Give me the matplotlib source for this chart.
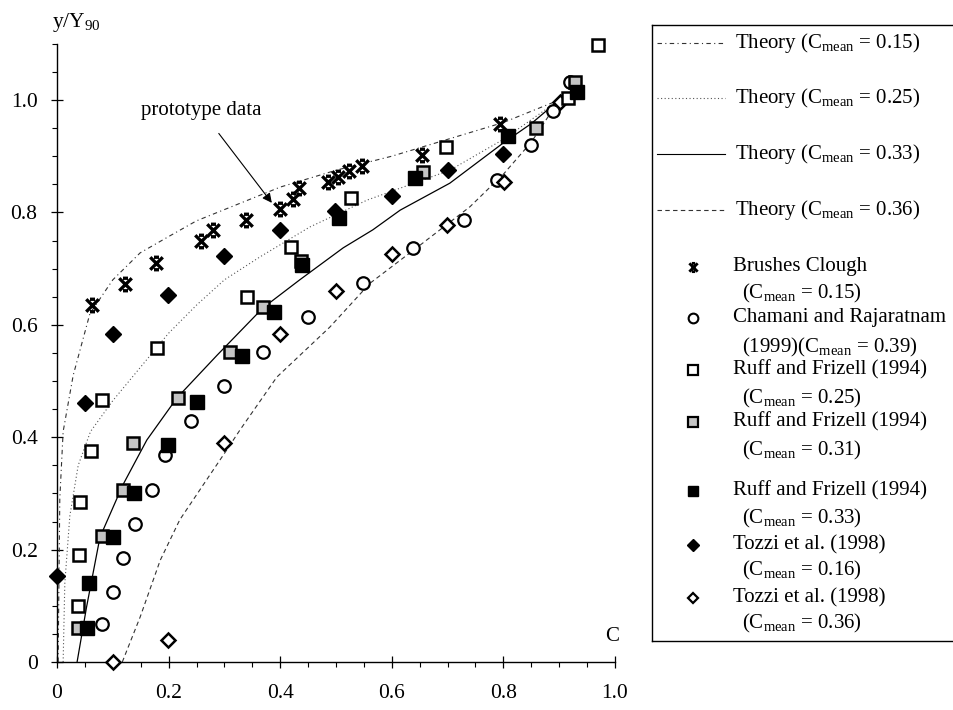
import matplotlib
matplotlib.use("Agg")
import matplotlib.pyplot as plt
from matplotlib.path import Path
from matplotlib.ticker import MultipleLocator

plt.rcParams['font.family'] = ['Liberation Serif', 'DejaVu Serif']
plt.rcParams['mathtext.fontset'] = 'custom'
plt.rcParams['mathtext.rm'] = 'Liberation Serif'
plt.rcParams['mathtext.it'] = 'Liberation Serif:italic'

# ---------------- data (C, y/Y90) ----------------
th015_c = [0.002, 0.005, 0.011, 0.029, 0.059, 0.100, 0.149, 0.200, 0.250, 0.300, 0.350, 0.400, 0.450, 0.500, 0.600, 0.700, 0.800, 0.900]
th015_y = [0.000, 0.290, 0.410, 0.510, 0.620, 0.680, 0.728, 0.757, 0.785, 0.805, 0.825, 0.845, 0.860, 0.875, 0.900, 0.930, 0.960, 1.000]

th025_c = [0.011, 0.014, 0.023, 0.038, 0.060, 0.100, 0.150, 0.200, 0.250, 0.300, 0.364, 0.453, 0.556, 0.704, 0.800, 0.900]
th025_y = [0.000, 0.140, 0.260, 0.350, 0.410, 0.465, 0.525, 0.585, 0.635, 0.680, 0.721, 0.774, 0.822, 0.875, 0.930, 1.000]

th033_c = [0.036, 0.053, 0.077, 0.118, 0.161, 0.215, 0.287, 0.369, 0.435, 0.513, 0.566, 0.615, 0.704, 0.799, 0.850, 0.900]
th033_y = [0.000, 0.098, 0.222, 0.315, 0.395, 0.470, 0.546, 0.630, 0.680, 0.737, 0.769, 0.804, 0.852, 0.923, 0.958, 1.000]

th036_c = [0.117, 0.149, 0.185, 0.220, 0.268, 0.304, 0.328, 0.394, 0.489, 0.561, 0.651, 0.740, 0.800, 0.850, 0.900]
th036_y = [0.000, 0.080, 0.181, 0.253, 0.324, 0.377, 0.413, 0.507, 0.596, 0.674, 0.742, 0.810, 0.868, 0.925, 1.000]

brushes_c = [0.063, 0.122, 0.177, 0.258, 0.280, 0.339, 0.400, 0.423, 0.434, 0.486, 0.504, 0.523, 0.547, 0.654, 0.794]
brushes_y = [0.635, 0.673, 0.710, 0.749, 0.769, 0.786, 0.806, 0.824, 0.843, 0.854, 0.863, 0.874, 0.883, 0.902, 0.957]

chamani_c = [0.081, 0.100, 0.118, 0.140, 0.170, 0.194, 0.240, 0.299, 0.369, 0.450, 0.548, 0.638, 0.729, 0.789, 0.849, 0.889, 0.919]
chamani_y = [0.068, 0.125, 0.185, 0.246, 0.306, 0.368, 0.429, 0.491, 0.552, 0.614, 0.674, 0.736, 0.786, 0.858, 0.920, 0.980, 1.032]

ruff025_c = [0.038, 0.040, 0.041, 0.061, 0.081, 0.179, 0.341, 0.419, 0.527, 0.697, 0.916, 0.970]
ruff025_y = [0.100, 0.190, 0.285, 0.376, 0.466, 0.559, 0.650, 0.739, 0.826, 0.917, 1.003, 1.098]

ruff031_c = [0.038, 0.081, 0.118, 0.136, 0.217, 0.310, 0.369, 0.437, 0.656, 0.858, 0.928]
ruff031_y = [0.060, 0.224, 0.306, 0.390, 0.470, 0.552, 0.632, 0.714, 0.872, 0.950, 1.032]

ruff033_c = [0.053, 0.057, 0.101, 0.138, 0.199, 0.251, 0.331, 0.389, 0.439, 0.505, 0.642, 0.808, 0.932]
ruff033_y = [0.060, 0.141, 0.222, 0.301, 0.386, 0.463, 0.545, 0.623, 0.706, 0.790, 0.861, 0.936, 1.014]

tozzi016_c = [0.000, 0.050, 0.100, 0.199, 0.299, 0.400, 0.498, 0.600, 0.701, 0.799]
tozzi016_y = [0.153, 0.461, 0.584, 0.653, 0.722, 0.769, 0.802, 0.829, 0.875, 0.904]

tozzi036_c = [0.100, 0.199, 0.299, 0.400, 0.500, 0.600, 0.699, 0.801, 0.901]
tozzi036_y = [0.000, 0.039, 0.390, 0.584, 0.660, 0.726, 0.778, 0.854, 0.996]

x_ticks = [0, 0.2, 0.4, 0.6, 0.8, 1.0]
x_ticklabels = ['0', '0.2', '0.4', '0.6', '0.8', '1.0']
y_ticks = [0, 0.2, 0.4, 0.6, 0.8, 1.0]
y_ticklabels = ['0', '0.2', '0.4', '0.6', '0.8', '1.0']

theory_labels = ['0.15', '0.25', '0.33', '0.36']

# ---------------- styles ----------------
ls015 = (0, (4, 3, 1, 3))
ls025 = (0, (1, 2.2))
ls033 = '-'
ls036 = (0, (4, 3))
GRAY = '#c4c4c4'

xbar = Path([(-1, -1), (1, 1), (-1, 1), (1, -1),
             (-0.4, 1), (0.4, 1), (-0.4, -1), (0.4, -1)],
            [Path.MOVETO, Path.LINETO] * 4)

FS = 15

fig = plt.figure(figsize=(9.54, 7.10), dpi=100)
ax = fig.add_axes([57 / 954, 48 / 710, 558 / 954, (662 - 43.8) / 710])
ax.set_xlim(0, 1.0)
ax.set_ylim(0, 1.1)

# theory curves
ax.plot(th015_c, th015_y, ls=ls015, color='#333333', lw=0.8)
ax.plot(th025_c, th025_y, ls=ls025, color='#555555', lw=0.8)
ax.plot(th033_c, th033_y, ls=ls033, color='black', lw=0.9)
ax.plot(th036_c, th036_y, ls=ls036, color='#333333', lw=0.8)

# data
kw = dict(ls='none', clip_on=False, zorder=3)
ax.plot(chamani_c, chamani_y, marker='o', ms=9, mfc='white', mec='black', mew=1.6, **kw)
ax.plot(tozzi036_c, tozzi036_y, marker='D', ms=7, mfc='white', mec='black', mew=1.8, **kw)
ax.plot(ruff025_c, ruff025_y, marker='s', ms=9, mfc='white', mec='black', mew=1.8, **kw)
ax.plot(ruff031_c, ruff031_y, marker='s', ms=9, mfc=GRAY, mec='black', mew=1.8, **kw)
ax.plot(ruff033_c, ruff033_y, marker='s', ms=10, mfc='black', mec='black', mew=1.0, **kw)
ax.plot(tozzi016_c, tozzi016_y, marker='D', ms=8, mfc='black', mec='black', mew=1.0, **kw)
ax.plot(brushes_c, brushes_y, marker=xbar, ms=9, mfc='none', mec='black', mew=2.4, **kw)

# axes styling
for s in ['top', 'right']:
    ax.spines[s].set_visible(False)
for s in ['left', 'bottom']:
    ax.spines[s].set_linewidth(1.0)
ax.set_xticks(x_ticks)
ax.set_xticklabels(x_ticklabels)
ax.set_yticks(y_ticks)
ax.set_yticklabels(y_ticklabels)
ax.xaxis.set_minor_locator(MultipleLocator(0.05))
ax.yaxis.set_minor_locator(MultipleLocator(0.05))
ax.tick_params(which='major', direction='inout', length=8, width=0.9, labelsize=FS + 0.5)
ax.tick_params(which='minor', direction='out', length=3.5, width=0.8)
ax.tick_params(axis='x', which='major', pad=12)
ax.tick_params(axis='y', which='major', pad=10)

ax.text(0.995, 0.046, 'C', fontsize=FS, ha='center', va='center')
fig.text(52 / 954, 1 - 27 / 710, r'y/Y$_{90}$', fontsize=FS + 0.5, ha='left', va='baseline')

ax.annotate('prototype data', xy=(0.385, 0.817), xytext=(0.258, 0.982),
            fontsize=FS, ha='center', va='center',
            arrowprops=dict(arrowstyle='-|>', color='black', lw=0.8,
                            mutation_scale=14, shrinkA=10, shrinkB=0))

# ---------------- legend panel (pixel coordinates) ----------------
lax = fig.add_axes([652 / 954, (710 - 641) / 710, (962 - 652) / 954, (641 - 25) / 710])
lax.set_xlim(652, 962)
lax.set_ylim(641, 25)
lax.set_xticks([])
lax.set_yticks([])
for s in lax.spines.values():
    s.set_linewidth(1.0)

theory_styles = [(ls015, '#333333'), (ls025, '#555555'), (ls033, 'black'), (ls036, '#333333')]
theory_ypos = [43, 98, 154, 210]
for (ls, col), yy, lab in zip(theory_styles, theory_ypos, theory_labels):
    lax.plot([657, 725], [yy, yy], ls=ls, color=col, lw=0.8)
    lax.text(735, yy, r'Theory (C$_{\mathrm{mean}}$ = %s)' % lab, fontsize=FS, va='center', ha='left')

entries = [
    (dict(marker=xbar, ms=6, mfc='none', mec='black', mew=2.0), 'Brushes Clough', r'(C$_{\mathrm{mean}}$ = 0.15)', 267, 293),
    (dict(marker='o', ms=7, mfc='white', mec='black', mew=1.5), 'Chamani and Rajaratnam', r'(1999)(C$_{\mathrm{mean}}$ = 0.39)', 318, 347),
    (dict(marker='s', ms=7, mfc='white', mec='black', mew=1.6), 'Ruff and Frizell (1994)', r'(C$_{\mathrm{mean}}$ = 0.25)', 370, 398),
    (dict(marker='s', ms=7, mfc=GRAY, mec='black', mew=1.6), 'Ruff and Frizell (1994)', r'(C$_{\mathrm{mean}}$ = 0.31)', 422, 450),
    (dict(marker='s', ms=7.5, mfc='black', mec='black', mew=1.0), 'Ruff and Frizell (1994)', r'(C$_{\mathrm{mean}}$ = 0.33)', 491, 518),
    (dict(marker='D', ms=6.5, mfc='black', mec='black', mew=1.0), 'Tozzi et al. (1998)', r'(C$_{\mathrm{mean}}$ = 0.16)', 545, 570),
    (dict(marker='D', ms=5.5, mfc='white', mec='black', mew=1.6), 'Tozzi et al. (1998)', r'(C$_{\mathrm{mean}}$ = 0.36)', 598, 623),
]
for mk, l1, l2, y1, y2 in entries:
    lax.plot([693], [y1], ls='none', **mk)
    lax.text(733, y1, l1, fontsize=FS, va='center', ha='left')
    lax.text(742, y2, l2, fontsize=FS, va='center', ha='left')

fig.savefig('out.png', dpi=100)
